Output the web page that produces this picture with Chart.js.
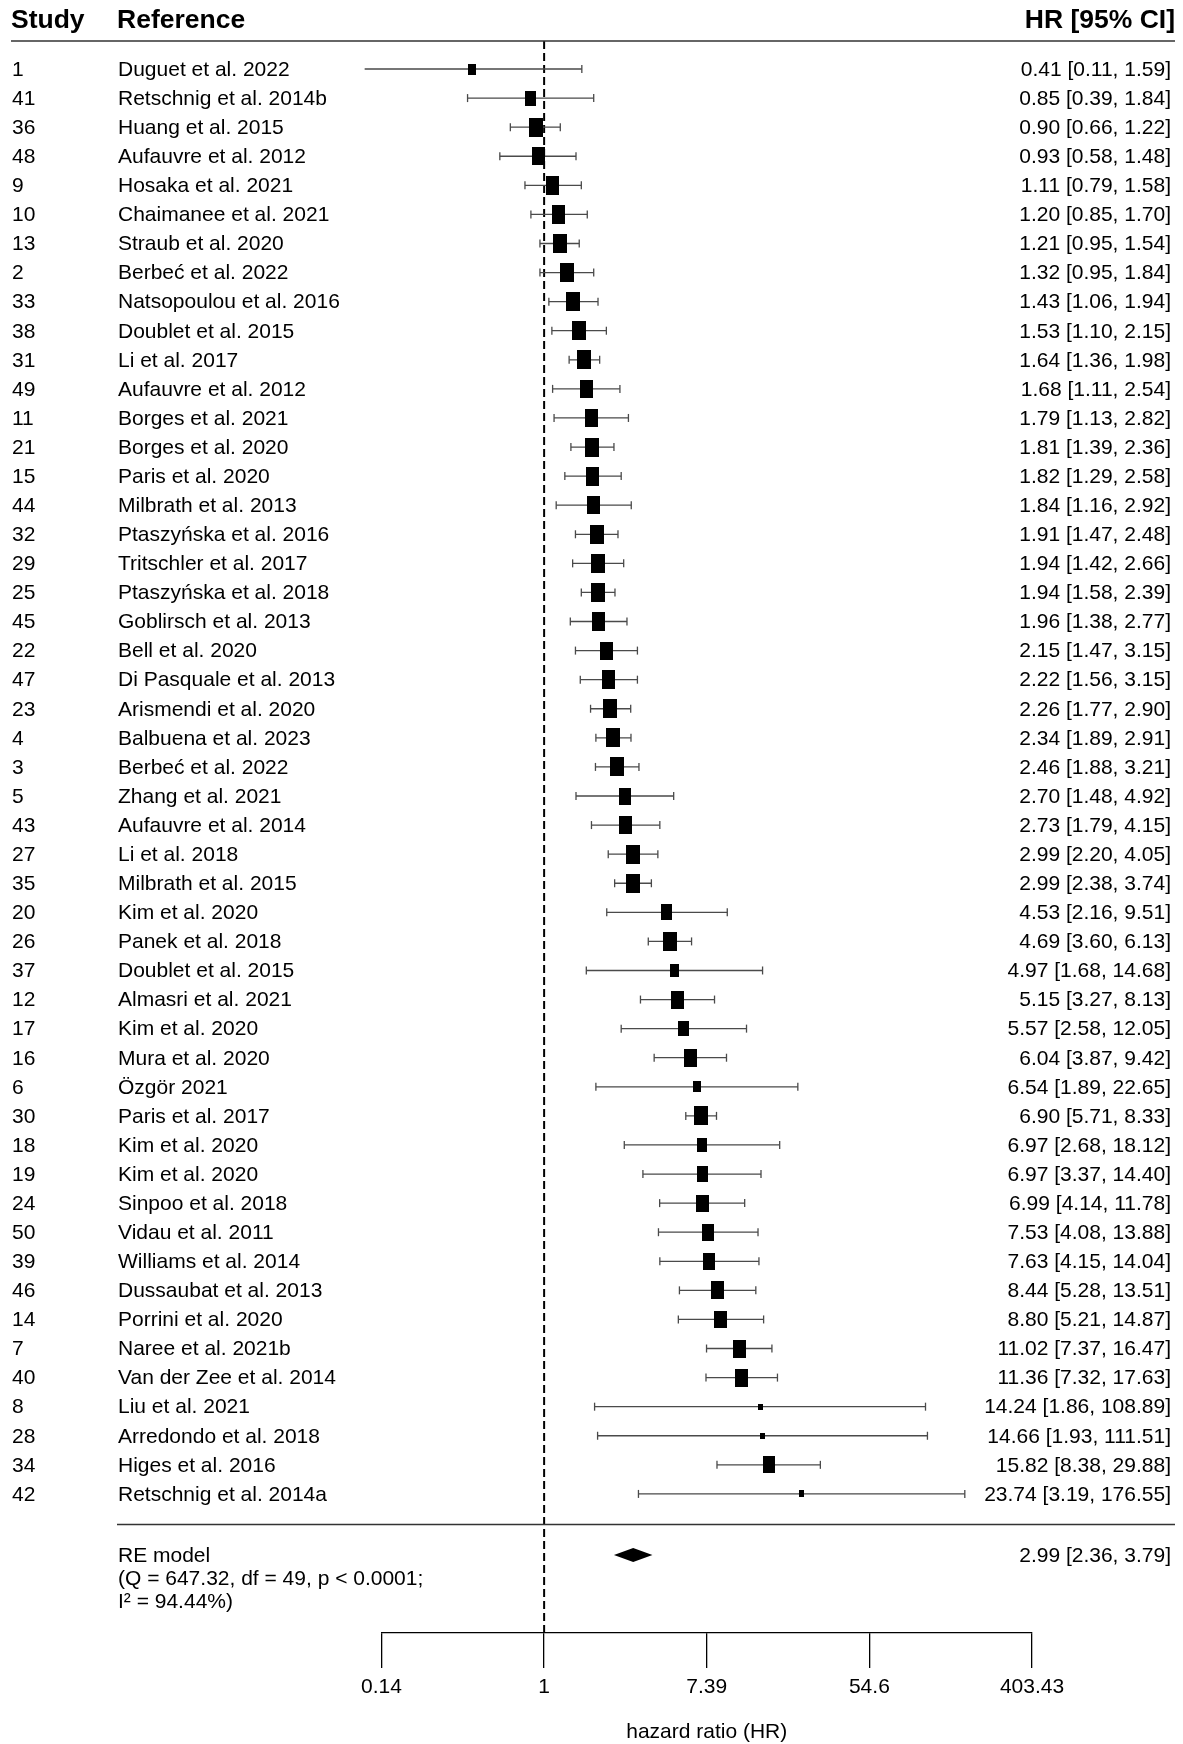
<!DOCTYPE html>
<html><head><meta charset="utf-8">
<script src="https://cdn.jsdelivr.net/npm/chart.js@4.4.0/dist/chart.umd.min.js"></script>
<style>html,body{margin:0;padding:0;background:#fff}canvas{display:block}</style>
</head><body>
<canvas id="c" width="1183" height="1744"></canvas>
<script>
// ---------- data ----------
const studyIds = [1,41,36,48,9,10,13,2,33,38,31,49,11,21,15,44,32,29,25,45,22,47,23,4,3,5,43,27,35,20,26,37,12,17,16,6,30,18,19,24,50,39,46,14,7,40,8,28,34,42];
const references = [
  'Duguet et al. 2022','Retschnig et al. 2014b','Huang et al. 2015','Aufauvre et al. 2012','Hosaka et al. 2021',
  'Chaimanee et al. 2021','Straub et al. 2020','Berbeć et al. 2022','Natsopoulou et al. 2016','Doublet et al. 2015',
  'Li et al. 2017','Aufauvre et al. 2012','Borges et al. 2021','Borges et al. 2020','Paris et al. 2020',
  'Milbrath et al. 2013','Ptaszyńska et al. 2016','Tritschler et al. 2017','Ptaszyńska et al. 2018','Goblirsch et al. 2013',
  'Bell et al. 2020','Di Pasquale et al. 2013','Arismendi et al. 2020','Balbuena et al. 2023','Berbeć et al. 2022',
  'Zhang et al. 2021','Aufauvre et al. 2014','Li et al. 2018','Milbrath et al. 2015','Kim et al. 2020',
  'Panek et al. 2018','Doublet et al. 2015','Almasri et al. 2021','Kim et al. 2020','Mura et al. 2020',
  'Özgör 2021','Paris et al. 2017','Kim et al. 2020','Kim et al. 2020','Sinpoo et al. 2018',
  'Vidau et al. 2011','Williams et al. 2014','Dussaubat et al. 2013','Porrini et al. 2020','Naree et al. 2021b',
  'Van der Zee et al. 2014','Liu et al. 2021','Arredondo et al. 2018','Higes et al. 2016','Retschnig et al. 2014a'
];
const hr      = [0.41,0.85,0.90,0.93,1.11,1.20,1.21,1.32,1.43,1.53,1.64,1.68,1.79,1.81,1.82,1.84,1.91,1.94,1.94,1.96,2.15,2.22,2.26,2.34,2.46,2.70,2.73,2.99,2.99,4.53,4.69,4.97,5.15,5.57,6.04,6.54,6.90,6.97,6.97,6.99,7.53,7.63,8.44,8.80,11.02,11.36,14.24,14.66,15.82,23.74];
const ciLower = [0.11,0.39,0.66,0.58,0.79,0.85,0.95,0.95,1.06,1.10,1.36,1.11,1.13,1.39,1.29,1.16,1.47,1.42,1.58,1.38,1.47,1.56,1.77,1.89,1.88,1.48,1.79,2.20,2.38,2.16,3.60,1.68,3.27,2.58,3.87,1.89,5.71,2.68,3.37,4.14,4.08,4.15,5.28,5.21,7.37,7.32,1.86,1.93,8.38,3.19];
const ciUpper = [1.59,1.84,1.22,1.48,1.58,1.70,1.54,1.84,1.94,2.15,1.98,2.54,2.82,2.36,2.58,2.92,2.48,2.66,2.39,2.77,3.15,3.15,2.90,2.91,3.21,4.92,4.15,4.05,3.74,9.51,6.13,14.68,8.13,12.05,9.42,22.65,8.33,18.12,14.40,11.78,13.88,14.04,13.51,14.87,16.47,17.63,108.89,111.51,29.88,176.55];
// relative study weights (estimated from square sizes)
const weights = [0.94,1.32,1.60,1.52,1.58,1.58,1.63,1.59,1.60,1.59,1.64,1.55,1.53,1.62,1.58,1.53,1.62,1.60,1.64,1.58,1.57,1.58,1.62,1.63,1.62,1.44,1.55,1.60,1.63,1.35,1.62,1.10,1.53,1.33,1.54,1.00,1.64,1.19,1.36,1.49,1.43,1.44,1.52,1.49,1.56,1.54,0.60,0.60,1.42,0.61];
const overallHR = 2.99, overallLower = 2.36, overallUpper = 3.79;
const overallText = ['RE model', '(Q = 647.32, df = 49, p < 0.0001;', 'I\u00B2 = 94.44%)'];
const tickValues = [-2, 0, 2, 4, 6];          // natural-log positions
const tickLabels = ['0.14', '1', '7.39', '54.6', '403.43'];
const headers = ['Study', 'Reference', 'HR [95% CI]'];
const axisTitle = 'hazard ratio (HR)';

// ---------- layout ----------
const ROW0_PX = 69, ROW_STEP = 29.08, TOP_PX = 41, BOTTOM_PX = 1633;
const Y_MIN = 1 - (ROW0_PX - TOP_PX) / ROW_STEP;
const Y_MAX = Y_MIN + (BOTTOM_PX - TOP_PX) / ROW_STEP;
const SEP_ROW = 51.02, RE_ROW = 52.1;
const FONT = '"Liberation Sans", Arial, Helvetica, sans-serif';
Chart.defaults.font.family = FONT;

const rows = hr.map((_, i) => i + 1);
const fmt = v => v.toFixed(2);

const wMin = Math.min(...weights), wMax = Math.max(...weights);
const boxStyles = weights.map(w => {
  const ps = 0.5 + (w - wMin) / (wMax - wMin);
  const cv = document.createElement('canvas');
  cv.width = Math.max(1, Math.round(9.33 * ps));
  cv.height = Math.max(1, Math.round(9.33 * ps * 1.38));
  const cx = cv.getContext('2d');
  cx.fillStyle = '#000';
  cx.fillRect(0, 0, cv.width, cv.height);
  return cv;
});

const ciData = [];
hr.forEach((_, i) => {
  ciData.push({x: Math.log(ciLower[i]), y: rows[i]});
  ciData.push({x: Math.log(ciUpper[i]), y: rows[i]});
  ciData.push({x: Math.log(ciUpper[i]), y: null});
});

const TXT_DY = 1;
const forestPlugin = {
  id: 'forest',
  beforeDraw(chart) {
    const ctx = chart.ctx;
    ctx.save(); ctx.fillStyle = '#fff'; ctx.fillRect(0, 0, chart.width, chart.height); ctx.restore();
  },
  afterDatasetsDraw(chart) {
    const ctx = chart.ctx, xs = chart.scales.x, ys = chart.scales.y;
    const yc = ys.getPixelForValue(RE_ROW);
    const xl = xs.getPixelForValue(Math.log(overallLower));
    const xm = xs.getPixelForValue(Math.log(overallHR));
    const xr = xs.getPixelForValue(Math.log(overallUpper));
    ctx.save();
    ctx.fillStyle = '#000';
    ctx.beginPath();
    ctx.moveTo(xl, yc); ctx.lineTo(xm, yc - 7); ctx.lineTo(xr, yc); ctx.lineTo(xm, yc + 7); ctx.closePath();
    ctx.fill();
    ctx.restore();
  },
  afterDraw(chart) {
    const ctx = chart.ctx, ys = chart.scales.y;
    ctx.save();
    ctx.fillStyle = '#000';
    ctx.textBaseline = 'middle';
    ctx.font = 'bold 26.5px ' + FONT;
    ctx.textAlign = 'left';
    ctx.fillText(headers[0], 11, 21);
    ctx.fillText(headers[1], 117, 21);
    ctx.textAlign = 'right';
    ctx.fillText(headers[2], 1175, 21);
    ctx.strokeStyle = '#333';
    ctx.lineWidth = 1.5;
    ctx.beginPath(); ctx.moveTo(11, TOP_PX); ctx.lineTo(1175, TOP_PX); ctx.stroke();
    const sy = Math.round(ys.getPixelForValue(SEP_ROW)) + 0.5;
    ctx.beginPath(); ctx.moveTo(117, sy); ctx.lineTo(1175, sy); ctx.stroke();
    ctx.font = '21px ' + FONT;
    ctx.fillStyle = '#000';
    rows.forEach((r, i) => {
      const y = ys.getPixelForValue(r) + TXT_DY;
      ctx.textAlign = 'left';
      ctx.fillText(String(studyIds[i]), 12, y);
      ctx.fillText(references[i], 118, y);
      ctx.textAlign = 'right';
      ctx.fillText(fmt(hr[i]) + ' [' + fmt(ciLower[i]) + ', ' + fmt(ciUpper[i]) + ']', 1171, y);
    });
    const yr = ys.getPixelForValue(RE_ROW) + TXT_DY;
    ctx.textAlign = 'left';
    overallText.forEach((t, k) => ctx.fillText(t, 118, yr + k * 23));
    ctx.textAlign = 'right';
    ctx.fillText(fmt(overallHR) + ' [' + fmt(overallLower) + ', ' + fmt(overallUpper) + ']', 1171, yr);
    ctx.restore();
  }
};

new Chart(document.getElementById('c'), {
  data: {
    datasets: [
      { type: 'scatter', label: 'HR', data: hr.map((v, i) => ({x: Math.log(v), y: rows[i]})),
        pointStyle: boxStyles, pointRadius: 5, pointHoverRadius: 5, order: 0, clip: false },
      { type: 'scatter', label: 'CI', data: ciData, showLine: true, spanGaps: false,
        borderColor: '#4a4a4a', borderWidth: 1.3, pointStyle: 'line', pointRotation: 90,
        pointRadius: 4, pointHoverRadius: 4, pointBorderColor: '#4a4a4a', pointBorderWidth: 1.3,
        order: 1, clip: false },
      { type: 'line', label: 'null', data: [{x: 0, y: Y_MIN}, {x: 0, y: Y_MAX}],
        borderColor: '#000', borderWidth: 2, borderDash: [8, 4], pointRadius: 0, order: 2 }
    ]
  },
  options: {
    responsive: false, animation: false, devicePixelRatio: 1, events: [],
    layout: { padding: { left: 381.5, right: 151, top: TOP_PX, bottom: 0 } },
    plugins: { legend: { display: false }, tooltip: { enabled: false } },
    scales: {
      x: {
        type: 'linear', min: -2, max: 6,
        afterBuildTicks: s => { s.ticks = tickValues.map(v => ({value: v})); },
        afterFit: s => { s.height = 1744 - BOTTOM_PX; },
        ticks: { callback: (v) => tickLabels[tickValues.indexOf(v)], color: '#000',
                 font: { size: 21 }, padding: 7, maxRotation: 0, autoSkip: false },
        grid: { drawOnChartArea: false, drawTicks: true, tickLength: 35, color: '#000', lineWidth: 1.3 },
        border: { display: true, color: '#000', width: 1.3 },
        title: { display: true, text: axisTitle, color: '#000', font: { size: 21, lineHeight: 1.1 }, padding: { top: 0, bottom: 0 } }
      },
      y: { type: 'linear', display: false, reverse: true, min: Y_MIN, max: Y_MAX }
    }
  },
  plugins: [forestPlugin]
});
</script>
</body></html>
